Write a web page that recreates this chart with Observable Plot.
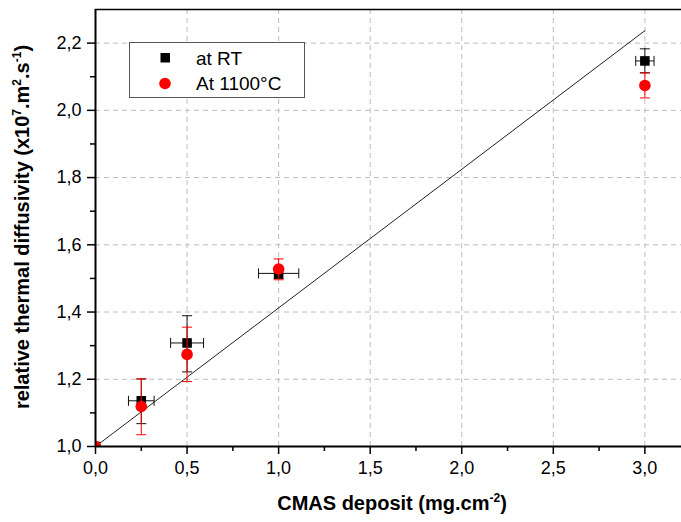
<!DOCTYPE html>
<html>
<head>
<meta charset="utf-8">
<script src="https://cdn.jsdelivr.net/npm/d3@7"></script>
<script src="https://cdn.jsdelivr.net/npm/@observablehq/plot@0.6"></script>
<style>
  html, body { margin: 0; padding: 0; background: #fff; }
  #chart { width: 681px; height: 522px; }
  svg { font-family: "Liberation Sans", Arial, sans-serif; }
</style>
</head>
<body>
<div id="chart"></div>
<script>
// ---- data ----
const deposit = [0, 0.25, 0.5, 1.0, 3.0];            // CMAS deposit (mg.cm-2)
const rtValue = [1.0, 1.136, 1.308, 1.515, 2.147];   // at RT
const rtLow   = [1.0, 1.068, 1.222, 1.500, 2.112];
const rtHigh  = [1.0, 1.201, 1.389, 1.530, 2.183];
const rtXErr  = [0, 0.07, 0.09, 0.11, 0.05];
const hotValue = [1.0, 1.119, 1.274, 1.528, 2.074];  // At 1100°C
const hotLow   = [1.0, 1.035, 1.193, 1.496, 2.037];
const hotHigh  = [1.0, 1.201, 1.355, 1.558, 2.111];
const fitX = [0, 3.0];
const fitY = [1.0, 2.237];
const xTicks = [0, 0.5, 1.0, 1.5, 2.0, 2.5, 3.0];
const xMinor = [0.25, 0.75, 1.25, 1.75, 2.25, 2.75];
const yTicks = [1.0, 1.2, 1.4, 1.6, 1.8, 2.0, 2.2];
const yMinor = [1.1, 1.3, 1.5, 1.7, 1.9, 2.1];
const seriesNames = ["at RT", "At 1100°C"];

// ---- derived tables ----
const rt = deposit.map((x, i) => ({x, y: rtValue[i], lo: rtLow[i], hi: rtHigh[i], xe: rtXErr[i]}));
const hot = deposit.map((x, i) => ({x, y: hotValue[i], lo: hotLow[i], hi: hotHigh[i]}));
const fit = fitX.map((x, i) => ({x, y: fitY[i]}));
const rtErr = rt.filter(d => d.hi > d.lo);
const rtXE = rt.filter(d => d.xe > 0);
const hotErr = hot.filter(d => d.hi > d.lo);

const fmt = d => d.toFixed(1).replace(".", ",");
const hcap = {draw(ctx) { ctx.moveTo(-5, 0); ctx.lineTo(5, 0); }};
const vcap = {draw(ctx) { ctx.moveTo(0, -5); ctx.lineTo(0, 5); }};

const chart = Plot.plot({
  width: 681,
  height: 522,
  marginLeft: 95,
  marginRight: 0,
  marginTop: 9,
  marginBottom: 76,
  style: {fontFamily: "Liberation Sans, Arial, sans-serif", background: "#fff"},
  x: {domain: [0, 3.2]},
  y: {domain: [1.0, 2.3]},
  marks: [
    Plot.gridY(yTicks.slice(1), {stroke: "#bdbdbd", strokeOpacity: 1, strokeDasharray: "5,4"}),
    Plot.gridX(xTicks.slice(1), {stroke: "#bdbdbd", strokeOpacity: 1, strokeDasharray: "5,4"}),
    Plot.line(fit, {x: "x", y: "y", stroke: "#222", strokeWidth: 1}),
    // RT error bars
    Plot.link(rtXE, {x1: d => d.x - d.xe, x2: d => d.x + d.xe, y1: "y", y2: "y", stroke: "#111", strokeWidth: 1}),
    Plot.dot(rtXE, {x: d => d.x - d.xe, y: "y", symbol: vcap, stroke: "#111", fill: "none", strokeWidth: 1}),
    Plot.dot(rtXE, {x: d => d.x + d.xe, y: "y", symbol: vcap, stroke: "#111", fill: "none", strokeWidth: 1}),
    Plot.ruleX(rtErr, {x: "x", y1: "lo", y2: "hi", stroke: "#111", strokeWidth: 1}),
    Plot.dot(rtErr, {x: "x", y: "lo", symbol: hcap, stroke: "#111", fill: "none", strokeWidth: 1}),
    Plot.dot(rtErr, {x: "x", y: "hi", symbol: hcap, stroke: "#111", fill: "none", strokeWidth: 1}),
    Plot.dot(rt, {x: "x", y: "y", symbol: "square", r: 5.4, fill: "black", clip: true}),
    // 1100°C error bars
    Plot.ruleX(hotErr, {x: "x", y1: "lo", y2: "hi", stroke: "#f00", strokeWidth: 1}),
    Plot.dot(hotErr, {x: "x", y: "lo", symbol: hcap, stroke: "#f00", fill: "none", strokeWidth: 1}),
    Plot.dot(hotErr, {x: "x", y: "hi", symbol: hcap, stroke: "#f00", fill: "none", strokeWidth: 1}),
    Plot.dot(hot, {x: "x", y: "y", r: 5.8, fill: "#f00", clip: true}),
    // axes and frame
    Plot.axisY(yTicks, {tickSize: 8, tickPadding: 6, tickFormat: fmt, fontSize: 18, strokeWidth: 1.5, label: null, color: "#000"}),
    Plot.axisY(yMinor, {tickSize: 5, tickFormat: () => "", strokeWidth: 1.5, label: null}),
    Plot.axisX(xTicks, {tickSize: 8, tickPadding: 7, tickFormat: fmt, fontSize: 18, strokeWidth: 1.5, label: null, color: "#000"}),
    Plot.axisX(xMinor, {tickSize: 5, tickFormat: () => "", strokeWidth: 1.5, label: null}),
    Plot.ruleX([0], {stroke: "#000", strokeWidth: 2}),
    Plot.ruleY([1.0], {stroke: "#000", strokeWidth: 2}),
    Plot.ruleY([2.3], {stroke: "#000", strokeWidth: 1.5})
  ]
});

const svg = d3.select(chart);

// Axis titles with superscripts
const xt = svg.append("text")
  .attr("x", 392).attr("y", 510)
  .attr("text-anchor", "middle")
  .attr("font-size", 20).attr("font-weight", "bold").attr("fill", "#000");
xt.append("tspan").text("CMAS deposit (mg.cm");
xt.append("tspan").attr("dy", -8).attr("font-size", 12).text("-2");
xt.append("tspan").attr("dy", 8).text(")");

const yt = svg.append("text")
  .attr("transform", "translate(29,227) rotate(-90)")
  .attr("text-anchor", "middle")
  .attr("font-size", 20).attr("font-weight", "bold").attr("fill", "#000");
yt.append("tspan").text("relative thermal diffusivity (x10");
yt.append("tspan").attr("dy", -8).attr("font-size", 12).text("7");
yt.append("tspan").attr("dy", 8).text(".m");
yt.append("tspan").attr("dy", -8).attr("font-size", 12).text("2");
yt.append("tspan").attr("dy", 8).text(".s");
yt.append("tspan").attr("dy", -8).attr("font-size", 12).text("-1");
yt.append("tspan").attr("dy", 8).text(")");

// Legend
const lg = svg.append("g").attr("text-anchor", "start");
lg.append("rect").attr("x", 129.5).attr("y", 42.5).attr("width", 175).attr("height", 55)
  .attr("fill", "#fff").attr("stroke", "#555").attr("stroke-width", 1);
lg.append("rect").attr("x", 160.5).attr("y", 53).attr("width", 9.5).attr("height", 9.5).attr("fill", "#000");
lg.append("circle").attr("cx", 165).attr("cy", 83.5).attr("r", 5.8).attr("fill", "#f00");
lg.append("text").attr("x", 196).attr("y", 58).attr("dy", "0.36em").attr("text-anchor", "start")
  .attr("font-size", 19).attr("fill", "#000").text(seriesNames[0]);
lg.append("text").attr("x", 196).attr("y", 83.5).attr("dy", "0.36em").attr("text-anchor", "start")
  .attr("font-size", 19).attr("fill", "#000").text(seriesNames[1]);

document.getElementById("chart").appendChild(chart);
</script>
</body>
</html>
